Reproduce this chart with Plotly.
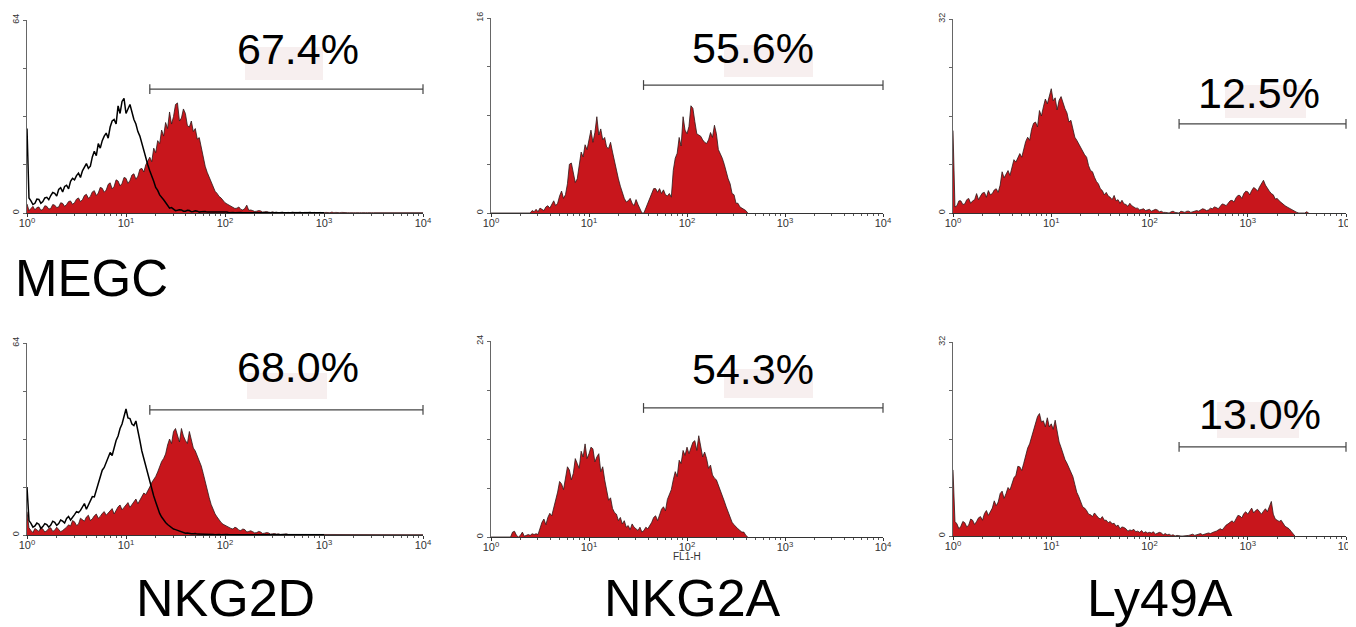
import plotly.graph_objects as go

W, H = 1356, 627
PAGE_OFFSET = 8  # the page body margin shifts the figure by this many pixels

# ---------------- data: counts per channel, channels every 0.02 decade starting at 10^0 ----------------
LOG_STEP = 0.02

# Top row (MEGC) -------------------------------------------------------------
nkg2d_megc_stain = [
    3.0, 0.8, 1.5, 2.2, 1.0, 1.8, 2.0, 0.9, 1.2, 2.4, 2.2, 1.3, 1.5, 2.8, 2.6, 1.8, 2.0, 3.4, 3.2, 2.2, 2.8, 3.8, 4.0, 2.9, 3.4,
    4.6, 5.0, 3.8, 4.4, 5.8, 6.2, 4.9, 5.5, 7.0, 7.4, 5.8, 6.6, 8.5, 8.2, 6.9, 7.6, 9.5, 10.0, 8.0, 8.8, 11.0, 10.6, 9.0, 9.8, 11.8,
    11.5, 9.8, 10.8, 12.6, 13.0, 11.2, 12.2, 14.5, 14.8, 13.6, 16.0, 17.2, 18.5, 17.0, 21.5, 20.0, 24.0, 23.0, 27.5, 25.5, 30.0, 28.0, 33.5, 29.5, 32.0,
    36.0, 36.5, 30.5, 31.5, 34.5, 33.0, 29.0, 28.5, 30.5, 27.0, 28.0, 24.5, 25.0, 21.5, 18.0, 15.5, 13.5, 12.0, 10.0, 8.8, 7.2, 6.5, 5.5, 5.0, 4.0,
    3.4, 3.0, 2.6, 2.2, 2.0, 1.5, 1.6, 2.0, 1.2, 1.0, 1.5, 2.6, 0.9, 1.0, 0.8, 0.5, 0.6, 0.8, 0.7, 0.3, 0.4, 0.5, 0.3, 0.2, 0.4,
    0.2, 0.3, 0.1, 0.2, 0.3, 0.1, 0.2, 0.2, 0.1, 0.3, 0.2, 0.1, 0.2, 0.3, 0.1, 0.2, 0.1, 0.2, 0.3, 0.1, 0.2, 0.1, 0.1, 0.2, 0.1,
    0.1, 0.2, 0.1, 0.1, 0.3, 0.1, 0.2, 0.1, 0.1, 0.2, 0.1, 0.2, 0.1, 0.1, 0.2, 0.1, 0.1, 0.2, 0.1, 0.1, 0.2, 0.1, 0.1, 0.2, 0.1,
    0.1, 0.1, 0.2, 0.1, 0.1, 0.1, 0.2, 0.1, 0.1, 0.1, 0.1, 0.2, 0.1, 0.1, 0.1, 0.2, 0.1, 0.1, 0.1, 0.1, 0.2, 0.1, 0.1, 0.1, 0.1,
    0.1]
nkg2d_megc_isotype = [
    28, 5.0, 4.0, 2.8, 3.2, 4.6, 4.5, 3.2, 3.8, 5.0, 5.2, 4.4, 5.8, 6.8, 6.5, 5.6, 7.8, 8.4, 7.0, 8.8, 9.2, 8.0, 10.5, 11.5, 11.0,
    12.4, 13.2, 11.8, 14.0, 15.2, 16.4, 14.8, 15.5, 18.6, 20.5, 19.0, 23.0, 21.5, 24.0, 25.5, 26.5, 24.8, 28.5, 30.5, 31.0, 29.5, 35.5, 33.0, 37.0, 38.0,
    33.0, 34.5, 36.0, 33.5, 31.0, 29.5, 27.0, 25.5, 23.0, 20.5, 18.5, 16.0, 14.0, 12.5, 10.5, 8.5, 7.5, 6.0, 5.0, 4.4, 3.5, 2.4, 1.6, 1.8, 1.2,
    0.8, 0.9, 1.1, 1.0, 0.6, 0.6, 0.9, 0.8, 0.4, 0.5, 0.7, 0.6, 0.3, 0.4, 0.5, 0.5, 0.3, 0.3, 0.4, 0.2, 0.3, 0.3, 0.2, 0.3, 0.2,
    0.2, 0.3, 0.1, 0.2, 0.2, 0.1, 0.2, 0.1, 0.2, 0.1, 0.1, 0.2, 0.1, 0.1, 0.2, 0.1, 0.1, 0.2, 0.1, 0.1, 0.1, 0.2, 0.1, 0.1, 0.1,
    0.1, 0.1, 0.2, 0.1, 0.1, 0.1, 0.1, 0.2, 0.1, 0.1, 0.1, 0.1, 0.1, 0.2, 0.1, 0.1, 0.1, 0.1, 0.1, 0.1, 0.2, 0.1, 0.1, 0.1, 0.1,
    0.1]
nkg2a_megc_stain = [
    0, 0, 0, 0, 0, 0, 0, 0, 0, 0, 0, 0, 0, 0, 0, 0, 0, 0, 0, 0, 0, 0.2, 0.1, 0.3, 0.1,
    0.4, 0.3, 0.2, 0.5, 0.6, 0.4, 0.7, 1.0, 0.6, 0.8, 1.4, 1.8, 1.2, 1.5, 2.4, 4.0, 4.1, 3.2, 2.5, 2.8, 3.8, 5.0, 4.6, 5.6, 5.2,
    6.0, 6.8, 5.8, 6.6, 7.9, 6.4, 6.9, 6.0, 6.2, 5.4, 5.3, 5.8, 5.0, 4.2, 3.6, 2.8, 2.2, 1.6, 1.2, 0.9, 1.0, 1.2, 0.8, 0.6, 1.1,
    0.7, 0.4, 0.0, 0.0, 0.4, 0.7, 1.2, 1.5, 2.0, 2.0, 1.7, 2.0, 1.6, 1.9, 1.5, 1.4, 1.6, 1.3, 3.5, 4.5, 4.9, 6.2, 5.5, 7.9, 6.8,
    6.5, 7.1, 8.8, 8.6, 7.5, 6.5, 6.4, 6.3, 6.0, 5.8, 5.7, 6.0, 6.6, 6.2, 7.2, 6.5, 5.2, 4.9, 4.5, 4.0, 3.3, 2.8, 2.4, 1.6, 1.5,
    0.8, 0.8, 0.5, 0.4, 0.3, 0.2, 0]
ly49a_megc_stain = [
    13.6, 1.0, 1.2, 2.0, 2.0, 1.4, 1.5, 2.2, 2.4, 1.6, 2.0, 2.2, 3.2, 2.2, 2.8, 3.3, 3.4, 2.6, 3.7, 3.0, 3.2, 3.8, 4.0, 3.4, 4.6,
    6.8, 5.8, 6.4, 7.0, 6.2, 7.6, 8.8, 8.4, 9.0, 9.8, 9.2, 10.5, 11.8, 12.5, 12.0, 13.8, 14.8, 15.0, 14.2, 16.9, 16.0, 17.5, 18.8, 18.0, 19.2,
    20.5, 18.5, 19.0, 17.0, 18.6, 19.2, 18.0, 17.2, 16.5, 15.0, 15.3, 13.8, 12.5, 12.0, 11.4, 10.8, 10.0, 9.6, 9.2, 7.8, 7.0, 6.8, 5.9, 5.2, 4.8,
    4.0, 3.7, 3.0, 3.4, 2.8, 2.6, 2.2, 2.9, 2.0, 2.2, 1.6, 2.1, 1.5, 1.4, 1.1, 1.6, 1.2, 1.0, 0.8, 0.8, 0.5, 0.6, 0.7, 0.4, 0.5,
    0.6, 0.3, 0.4, 0.6, 0.5, 0.2, 0.3, 0.1, 0.1, 0, 0, 0.2, 0.3, 0.1, 0, 0, 0.3, 0.2, 0.1, 0.3, 0.3, 0.1, 0.2, 0.4, 0.4,
    0.3, 0.5, 0.7, 0.6, 0.4, 0.5, 0.8, 0.7, 1.0, 0.9, 0.7, 1.1, 1.5, 1.4, 1.2, 1.6, 2.0, 2.1, 1.8, 2.5, 2.9, 2.9, 2.4, 3.2, 3.6,
    3.5, 3.0, 3.7, 4.2, 4.0, 3.6, 4.3, 4.8, 5.4, 4.6, 4.0, 3.6, 3.2, 3.0, 2.3, 2.4, 2.0, 1.7, 1.5, 1.2, 1.0, 0.8, 0.6, 0.4, 0.2,
    0.1, 0, 0, 0, 0, 0.2, 0]

# Bottom row ------------------------------------------------------------------
nkg2d_stain = [
    7.8, 2.4, 1.5, 0.8, 2.2, 1.6, 1.2, 2.5, 2.0, 1.0, 1.4, 2.2, 2.4, 1.2, 1.6, 2.6, 2.0, 1.1, 1.5, 2.0, 2.6, 3.4, 3.0, 4.8, 4.4,
    3.2, 3.6, 5.6, 5.2, 4.6, 6.0, 6.6, 4.8, 5.4, 6.4, 7.0, 5.6, 6.2, 7.2, 7.8, 6.6, 7.4, 8.0, 8.8, 7.0, 8.4, 9.4, 10.0, 8.4, 9.2,
    10.0, 10.8, 9.2, 10.2, 11.2, 12.0, 10.4, 11.5, 12.7, 14.0, 13.5, 14.6, 16.0, 17.5, 18.5, 19.5, 21.0, 23.0, 24.5, 25.5, 27.0, 30.0, 32.0, 30.5, 34.5,
    35.5, 33.0, 31.0, 35.5, 33.0, 31.5, 30.5, 34.5, 32.0, 29.0, 28.0, 26.5, 25.0, 23.0, 20.5, 17.5, 15.0, 12.5, 10.2, 8.3, 7.0, 6.0, 5.0, 4.2, 3.6,
    3.2, 2.8, 2.6, 2.2, 2.0, 2.6, 2.3, 1.6, 1.5, 2.0, 1.8, 1.0, 1.2, 1.4, 1.1, 0.7, 0.8, 1.2, 1.0, 0.5, 0.6, 0.8, 0.7, 0.3, 0.4,
    0.5, 0.3, 0.4, 0.2, 0.3, 0.2, 0.4, 0.2, 0.2, 0.3, 0.1, 0.2, 0.2, 0.1, 0.3, 0.1, 0.2, 0.1, 0.2, 0.1, 0.1, 0.2, 0.1, 0.1, 0.2,
    0.1, 0.1, 0.2, 0.1, 0.1, 0.1, 0.2, 0.1, 0.1, 0.2, 0.1, 0.1, 0.1, 0.2, 0.1, 0.1, 0.1, 0.2, 0.1, 0.1, 0.1, 0.1, 0.2, 0.1, 0.1,
    0.1, 0.2, 0.1, 0.1, 0.1, 0.1, 0.1, 0.2, 0.1, 0.1, 0.1, 0.1, 0.1, 0.1, 0.2, 0.1, 0.1, 0.1, 0.1, 0.1, 0.1, 0.1, 0.2, 0.1, 0.1,
    0.1]
nkg2d_isotype = [
    16, 4.8, 3.9, 2.6, 3.0, 4.0, 3.6, 2.2, 2.8, 3.8, 3.5, 2.6, 3.3, 4.6, 4.2, 3.2, 3.8, 5.0, 4.6, 4.0, 5.5, 6.2, 5.0, 5.8, 6.8,
    7.8, 7.5, 8.2, 9.4, 10.5, 8.6, 10.0, 11.5, 12.8, 12.7, 15.0, 17.0, 19.5, 21.6, 22.5, 24.0, 26.0, 27.5, 26.5, 29.5, 31.5, 33.0, 35.5, 37.0, 39.5,
    42.0, 39.0, 38.8, 37.0, 36.5, 38.0, 34.0, 31.5, 28.0, 25.5, 23.0, 20.0, 17.5, 15.0, 13.0, 11.0, 9.0, 7.2, 6.0, 5.0, 4.2, 3.5, 3.0, 2.4, 2.0,
    1.8, 1.6, 1.2, 1.0, 0.8, 0.6, 0.7, 0.5, 0.4, 0.4, 0.5, 0.3, 0.3, 0.4, 0.2, 0.3, 0.2, 0.3, 0.2, 0.2, 0.1, 0.2, 0.2, 0.1, 0.2,
    0.1, 0.2, 0.1, 0.1, 0.2, 0.1, 0.1, 0.1, 0.2, 0.1, 0.1, 0.1, 0.1, 0.2, 0.1, 0.1, 0.1, 0.1, 0.1, 0.1, 0.1, 0.2, 0.1, 0.1, 0.1,
    0.1, 0.1, 0.1, 0.2, 0.1, 0.1, 0.1, 0.1, 0.1, 0.1, 0.2, 0.1, 0.1, 0.1, 0.1, 0.1, 0.1, 0.2, 0.1, 0.1, 0.1, 0.1, 0.1, 0.1, 0.1,
    0.1]
nkg2a_stain = [
    0, 0, 0, 0, 0, 0, 0, 0, 0, 0, 0, 0.6, 0.7, 0.2, 0.0, 0.2, 0.6, 0.1, 0.2, 0.3, 0.2, 0.4, 0.3, 0.4, 0.3,
    1.2, 1.8, 2.2, 1.5, 2.4, 2.9, 2.6, 3.5, 4.6, 5.5, 6.8, 6.5, 5.8, 7.5, 8.6, 8.2, 7.0, 7.8, 9.6, 9.0, 8.4, 10.5, 9.8, 11.4, 9.6,
    10.2, 11.0, 10.8, 9.2, 9.8, 10.2, 8.0, 8.6, 7.0, 5.6, 4.5, 4.8, 3.5, 3.0, 2.8, 2.0, 2.4, 1.6, 2.0, 1.2, 1.4, 0.9, 1.6, 1.2, 1.0,
    0.8, 1.2, 0.6, 0.8, 1.2, 1.0, 1.4, 1.8, 2.4, 2.6, 2.0, 2.8, 3.4, 3.7, 3.2, 4.6, 5.2, 5.8, 7.0, 8.0, 7.4, 9.4, 9.0, 10.6, 10.0,
    11.0, 10.2, 10.8, 11.6, 11.8, 10.6, 12.4, 10.8, 9.8, 10.4, 9.6, 8.4, 8.8, 7.6, 7.2, 7.0, 6.4, 5.8, 5.2, 4.4, 3.7, 3.0, 2.4, 1.8, 1.5,
    1.2, 1.0, 0.8, 0.6, 0.6, 0.2, 0]
ly49a_stain = [
    10.9, 2.4, 2.0, 1.2, 1.6, 2.4, 2.2, 1.5, 1.8, 2.8, 2.6, 1.9, 2.4, 3.0, 3.2, 2.6, 3.7, 4.2, 3.4, 4.0, 4.6, 5.8, 5.0, 5.6, 7.0,
    7.4, 6.2, 7.0, 8.0, 7.6, 8.7, 9.6, 10.0, 11.5, 11.4, 10.8, 12.0, 13.5, 14.5, 15.2, 16.4, 17.2, 18.5, 19.7, 20.2, 18.8, 19.0, 18.0, 19.5, 18.0,
    18.5, 17.6, 19.1, 17.0, 15.5, 14.6, 13.5, 12.6, 12.0, 11.2, 10.5, 9.8, 8.5, 7.2, 6.5, 5.6, 4.8, 4.6, 4.2, 3.6, 3.5, 3.2, 3.8, 3.4, 3.0,
    2.8, 3.2, 2.6, 2.6, 2.2, 2.4, 2.0, 2.1, 1.6, 1.8, 1.2, 1.5, 1.4, 1.2, 0.8, 1.0, 0.9, 1.1, 0.7, 0.8, 0.6, 0.9, 0.5, 0.7, 0.5,
    0.6, 0.5, 0.7, 0.3, 0.4, 0.6, 0.5, 0.2, 0.4, 0.2, 0.3, 0.1, 0.2, 0, 0.1, 0, 0, 0, 0, 0.1, 0.1, 0.2, 0.3, 0.1, 0.2,
    0.3, 0.4, 0.2, 0.3, 0.4, 0.5, 0.4, 0.6, 0.7, 0.8, 1.0, 1.2, 1.0, 1.5, 1.8, 2.0, 2.2, 2.5, 2.2, 2.9, 3.4, 3.3, 3.0, 3.7, 4.0,
    3.6, 4.2, 4.6, 3.8, 4.2, 4.4, 4.0, 3.6, 4.1, 4.5, 4.0, 4.8, 5.7, 3.6, 2.8, 2.6, 2.4, 2.6, 2.1, 1.6, 1.4, 1.2, 0.8, 0.4, 0]

y_max = [64, 16, 32, 64, 24, 32]
gate_low = [17.4, 36, 200, 17.4, 36, 200]
gate_high = [10000, 10000, 10000, 10000, 10000, 10000]
gate_level = [41.1, 10.5, 14.7, 41.7, 15.8, 14.7]
percent_labels = ["67.4%", "55.6%", "12.5%", "68.0%", "54.3%", "13.0%"]
marker_names = ["NKG2D", "NKG2A", "Ly49A"]
row_label = "MEGC"
x_axis_title = "FL1-H"
decade_ticks = [1, 10, 100, 1000, 10000]
decade_text = ["10<sup>0</sup>", "10<sup>1</sup>", "10<sup>2</sup>", "10<sup>3</sup>", "10<sup>4</sup>"]

stains = [nkg2d_megc_stain, nkg2a_megc_stain, ly49a_megc_stain, nkg2d_stain, nkg2a_stain, ly49a_stain]
isotypes = [nkg2d_megc_isotype, None, None, nkg2d_isotype, None, None]

# ---------------- layout geometry (screen pixels of the reference) ----------------
panel_px = [  # x0, x1, ytop, ybottom
    (27, 423, 20, 213), (491, 883, 18, 213), (953, 1346, 19, 213),
    (27, 423, 343, 535), (491, 883, 341, 537), (953, 1346, 342, 536),
]
label_px = [(298, 49), (753, 48), (1259, 93), (298, 367), (753, 369), (1260, 414)]
box_px = [(245, 47, 323, 80), (724, 45, 813, 77), (1225, 85, 1306, 118),
          (247, 373, 327, 399), (724, 369, 813, 398), (1217, 402, 1299, 438)]

FONT = "Liberation Sans, Arial, sans-serif"
RED = "rgb(200,22,28)"


def px(xp):
    return (xp - PAGE_OFFSET) / W


def py(yp):
    return 1 - (yp - PAGE_OFFSET) / H


fig = go.Figure()
minor_vals = [m * 10 ** d for d in range(4) for m in range(2, 10)]

for k in range(6):
    ax = "" if k == 0 else str(k + 1)
    xs = [10 ** (i * LOG_STEP) for i in range(len(stains[k]))]
    fig.add_trace(go.Scatter(
        x=xs, y=stains[k], mode="lines", fill="tozeroy", fillcolor=RED,
        line=dict(color="rgb(45,25,25)", width=0.8), xaxis="x" + ax, yaxis="y" + ax,
        showlegend=False, hoverinfo="skip"))
    if isotypes[k] is not None:
        xi = [10 ** (i * LOG_STEP) for i in range(len(isotypes[k]))]
        fig.add_trace(go.Scatter(
            x=xi, y=isotypes[k], mode="lines", line=dict(color="black", width=1.5),
            xaxis="x" + ax, yaxis="y" + ax, showlegend=False, hoverinfo="skip"))
    fig.add_trace(go.Scatter(
        x=[gate_low[k], gate_high[k]], y=[gate_level[k], gate_level[k]], mode="lines+markers",
        line=dict(color="#444", width=1.2),
        marker=dict(symbol="line-ns", size=7, line=dict(width=1.2, color="#444")),
        cliponaxis=False, xaxis="x" + ax, yaxis="y" + ax, showlegend=False, hoverinfo="skip"))

    x0, x1, yt, yb = panel_px[k]
    ym = y_max[k]
    fig.layout["xaxis" + ax] = dict(
        domain=[px(x0), px(x1)], anchor="y" + ax, type="log", range=[0, 4], automargin=False,
        showline=True, linecolor="#333", linewidth=1, showgrid=False, zeroline=False,
        ticks="outside", ticklen=3, tickcolor="#333", tickvals=decade_ticks, ticktext=decade_text,
        ticklabelstandoff=-3,
        tickfont=dict(family=FONT, size=11, color="#333"),
        minor=dict(tickvals=minor_vals, ticks="outside", ticklen=2, tickcolor="#555"),
        fixedrange=True)
    fig.layout["yaxis" + ax] = dict(
        domain=[py(yb), py(yt)], anchor="x" + ax, range=[0, ym], automargin=False,
        showline=True, linecolor="#666", linewidth=1, showgrid=False, zeroline=False,
        ticks="outside", ticklen=3, tickcolor="#666",
        tickvals=[0, ym], ticktext=["0", str(ym)],
        minor=dict(tickvals=[ym / 4, ym / 2, 3 * ym / 4], ticks="outside", ticklen=3, tickcolor="#666"),
        tickangle=-90, tickfont=dict(family=FONT, size=9, color="#333"), fixedrange=True)

annotations = []
shapes = []
for k in range(6):
    bx0, by0, bx1, by1 = box_px[k]
    shapes.append(dict(type="rect", xref="paper", yref="paper", x0=px(bx0), x1=px(bx1),
                       y0=py(by1), y1=py(by0), fillcolor="rgb(247,239,239)", line=dict(width=0),
                       layer="below"))
    lx, ly = label_px[k]
    annotations.append(dict(text=percent_labels[k], x=px(lx), y=py(ly), xref="paper", yref="paper",
                            xanchor="center", yanchor="middle", showarrow=False,
                            font=dict(family=FONT, size=43, color="black")))

for j, name in enumerate(marker_names):
    cx = [225, 692, 1160][j]
    annotations.append(dict(text=name, x=px(cx), y=py(598), xref="paper", yref="paper",
                            xanchor="center", yanchor="middle", showarrow=False,
                            font=dict(family=FONT, size=52, color="black")))
annotations.append(dict(text=row_label, x=px(13), y=py(278), xref="paper", yref="paper",
                        xanchor="left", yanchor="middle", showarrow=False,
                        font=dict(family=FONT, size=51, color="black")))
annotations.append(dict(text=x_axis_title, x=px(687), y=py(556), xref="paper", yref="paper",
                        xanchor="center", yanchor="middle", showarrow=False,
                        font=dict(family=FONT, size=10, color="#333")))

fig.update_layout(width=W, height=H, margin=dict(l=0, r=0, t=0, b=0),
                  paper_bgcolor="white", plot_bgcolor="white",
                  annotations=annotations, shapes=shapes, showlegend=False)

fig.write_html("out.html")
